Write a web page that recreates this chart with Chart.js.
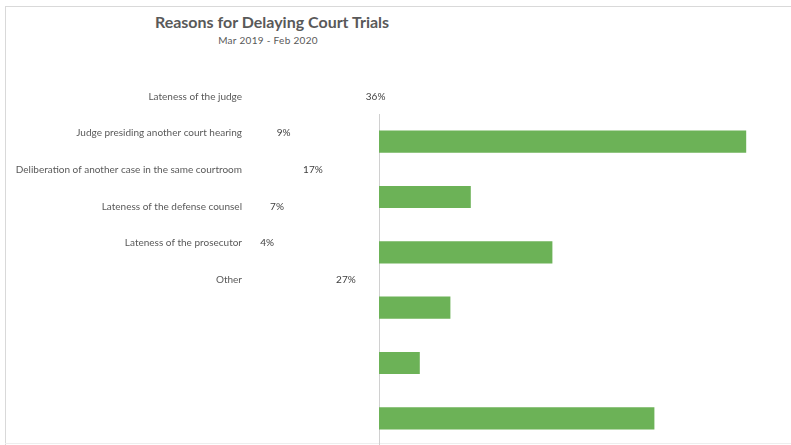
<!DOCTYPE html>
<html>
<head>
<meta charset="utf-8">
<script src="https://cdn.jsdelivr.net/npm/chart.js@4"></script>
<style>
    body { margin: 0; background: #fff; }
    #frame {
        position: relative; width: 791px; height: 445px; overflow: hidden;
        font-family: Lato, "Open Sans", sans-serif;
    }
    #frame .edge { position: absolute; background: #d9d9d9; }
    #title {
        position: absolute; left: 100px; width: 344px; top: 12px;
        text-align: center; font-weight: bold; font-size: 16px; color: #595959;
    }
    #subtitle {
        position: absolute; left: 100px; width: 336px; top: 34px;
        text-align: center; font-size: 10px; letter-spacing: 0.3px; color: #595959;
    }
    #labelsChart { position: absolute; left: 0; top: 70px; }
    #barsChart { position: absolute; left: 377px; top: 114px; }
</style>
</head>
<body>
<div id="frame">
    <div class="edge" style="left:5px;top:6px;width:786px;height:1px"></div>
    <div class="edge" style="left:5px;top:6px;width:1px;height:439px"></div>
    <div class="edge" style="left:5px;top:443px;width:786px;height:1px;background:#eeeeee"></div>
    <div id="title">Reasons for Delaying Court Trials</div>
    <div id="subtitle">Mar 2019 - Feb 2020</div>
    <canvas id="labelsChart" width="400" height="236"></canvas>
    <canvas id="barsChart" width="414" height="332"></canvas>
</div>
<script>
const reasons = [
    'Lateness of the judge',
    'Judge presiding another court hearing',
    'Deliberation of another case in the same courtroom',
    'Lateness of the defense counsel',
    'Lateness of the prosecutor',
    'Other'
];
const shares = [36, 9, 17, 7, 4, 27];
const axisMax = 40;

const barGreen = '#6cb257';
const textGrey = '#595959';

// writes "NN%" just past the end of each (invisible) bar
const valueLabels = {
    id: 'valueLabels',
    afterDatasetsDraw(chart) {
        const ctx = chart.ctx;
        const meta = chart.getDatasetMeta(0);
        ctx.save();
        ctx.font = '10px Lato';
        ctx.fillStyle = '#404040';
        ctx.textAlign = 'left';
        ctx.textBaseline = 'middle';
        meta.data.forEach((bar, i) => {
            ctx.fillText(shares[i] + '%', bar.x + 3, bar.y);
        });
        ctx.restore();
    }
};

new Chart(document.getElementById('labelsChart'), {
    type: 'bar',
    data: {
        labels: reasons,
        datasets: [{
            data: shares,
            backgroundColor: 'rgba(0,0,0,0)',
            barPercentage: 0.4,
            categoryPercentage: 1
        }]
    },
    options: {
        indexAxis: 'y',
        responsive: false,
        animation: false,
        layout: { padding: { right: 24 } },
        plugins: { legend: { display: false }, tooltip: { enabled: false } },
        scales: {
            x: { display: false, min: 0, max: axisMax },
            y: {
                afterFit: s => { s.width = 244; },
                border: { display: false },
                grid: { display: false, drawTicks: false },
                ticks: { color: textGrey, font: { family: 'Lato', size: 10 }, padding: 2 }
            }
        }
    },
    plugins: [valueLabels]
});

new Chart(document.getElementById('barsChart'), {
    type: 'bar',
    data: {
        labels: reasons,
        datasets: [{
            data: shares,
            backgroundColor: barGreen,
            borderWidth: 0,
            barPercentage: 0.4,
            categoryPercentage: 1
        }]
    },
    options: {
        indexAxis: 'y',
        responsive: false,
        animation: false,
        layout: { padding: { right: 4 } },
        plugins: { legend: { display: false }, tooltip: { enabled: false } },
        scales: {
            x: { display: false, min: 0, max: axisMax },
            y: {
                afterFit: s => { s.width = 2; },
                border: { display: true, color: '#d0d0d0', width: 1 },
                grid: { display: false },
                ticks: { display: false }
            }
        }
    }
});
</script>
</body>
</html>
